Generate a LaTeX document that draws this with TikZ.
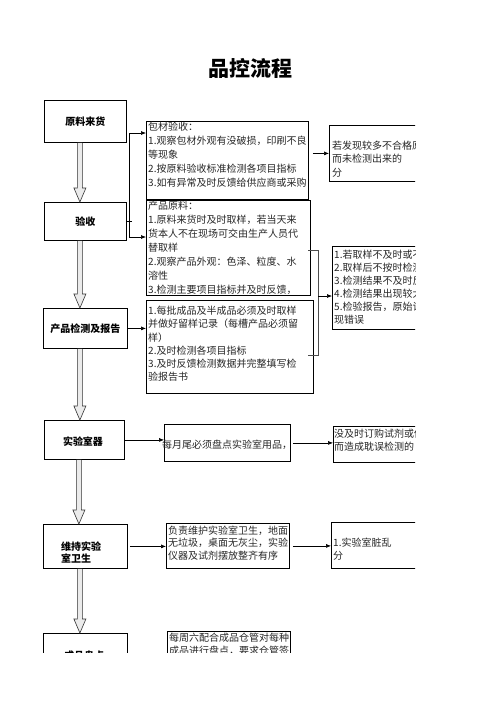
\documentclass[tikz,border=0pt]{standalone}
\usepackage{fontspec}
\setmainfont{Noto Sans CJK SC}
\usetikzlibrary{arrows.meta,calc}
\tikzset{
  step box/.style={draw,line width=0.8pt,inner sep=0pt,anchor=north west},
  step label/.style={font=\bfseries\fontsize{10}{12}\selectfont,inner sep=0pt},
  title text/.style={font=\bfseries\fontsize{21}{24}\selectfont,inner sep=0pt},
  note text/.style={font=\fontsize{10}{#1}\selectfont,align=left,inner sep=1pt,
    anchor=north west,text=black!85},
  note text/.default=13.5,
  flow arrow/.style={-{Latex[length=5pt,width=4pt]},line width=0.6pt},
  flow line/.style={line width=0.6pt},
  bracket line/.style={draw=black!70,line width=0.8pt},
  hollow arrow/.style={draw=black!80,fill=black!8,line width=0.6pt},
}
% wide hollow arrow from the bottom of one step box to the top of the next
\newcommand\bigdown[2]{%
  \draw[hollow arrow] ($(#1.south)+(-8,0)$) -- ($(#1.south |- #2.north)+(-8,-14)$)
    -- ($(#1.south |- #2.north)+(-11.5,-14)$) -- ($(#1.south |- #2.north)+(-5.5,0)$)
    -- ($(#1.south |- #2.north)+(0.5,-14)$) -- ($(#1.south |- #2.north)+(-3,-14)$)
    -- ($(#1.south)+(-3,0)$);}

\begin{document}
\begin{tikzpicture}[x=1pt,y=-1pt]
  \useasboundingbox (0,0) rectangle (496,702);
  \node[title text] (title) at (250,68) {品控流程};

  \begin{scope}
  \clip (0,0) rectangle (415,652.5);
  % left column
  \node[step box,minimum width=82,minimum height=42] (b1) at (44,100) {};
  \node[step box,minimum width=82,minimum height=38] (b2) at (44,202) {};
  \node[step box,minimum width=84,minimum height=40] (b3) at (43,308) {};
  \node[step box,minimum width=80,minimum height=39] (b4) at (44,420) {};
  \node[step box,minimum width=84,minimum height=44] (b5) at (43,524) {};
  \node[step box,minimum width=84,minimum height=50] (b6) at (43,633) {};
  \node[step label] (b1t) at (b1.center) {原料来货};
  \node[step label] (b2t) at (b2.center) {验收};
  \node[step label] (b3t) at (b3.center) {产品检测及报告};
  \node[step label] (b4t) at (83,442) {实验室器};
  \node[step label,align=left,anchor=west] (b5t) at (61,552) {维持实验\\室卫生};
  \node[step label,anchor=west] (b6t) at (64,656) {成品盘点};
  \foreach \a/\b in {b1/b2,b2/b3,b3/b4,b4/b5,b5/b6} {\bigdown{\a}{\b}}

  % middle column
  \node[step box,minimum width=162,minimum height=78] (m1) at (146,121) {};
  \node[step box,minimum width=164,minimum height=95] (m2) at (146,200) {};
  \node[step box,minimum width=167,minimum height=93] (m3) at (146,300) {};
  \node[step box,minimum width=126,minimum height=37] (m4) at (164,424) {};
  \node[step box,minimum width=123,minimum height=45] (m5) at (166,523) {};
  \node[step box,minimum width=123,minimum height=60] (m6) at (167,631) {};
  \begin{scope}
    \clip (m1.north west) rectangle (m1.south east);
    \node[note text=14] (m1t) at ($(m1.north west)+(1,0)$)
      {包材验收：\\1.观察包材外观有没破损，印刷不良\\等现象\\2.按原料验收标准检测各项目指标\\3.如有异常及时反馈给供应商或采购};
  \end{scope}
  \node[note text=14] (m2t) at ($(m2.north west)+(1,0)$)
    {产品原料：\\1.原料来货时及时取样，若当天来\\货本人不在现场可交由生产人员代\\替取样\\2.观察产品外观：色泽、粒度、水\\溶性\\3.检测主要项目指标并及时反馈，};
  \node[note text=13.2] (m3t) at ($(m3.north west)+(1,5)$)
    {1.每批成品及半成品必须及时取样\\并做好留样记录（每槽产品必须留\\样）\\2.及时检测各项目指标\\3.及时反馈检测数据并完整填写检\\验报告书};
  \node[note text,anchor=west] (m4t) at (161,445) {每月尾必须盘点实验室用品，};
  \node[note text=12.5] (m5t) at ($(m5.north west)+(1,1.5)$)
    {负责维护实验室卫生，地面\\无垃圾，桌面无灰尘，实验\\仪器及试剂摆放整齐有序};
  \node[note text=13] (m6t) at ($(m6.north west)+(1,1)$)
    {每周六配合成品仓管对每种\\成品进行盘点，要求仓管签};

  % right column
  \node[step box,minimum width=100,minimum height=56] (r1) at (329,125) {};
  \node[step box,minimum width=100,minimum height=83] (r2) at (332,246) {};
  \node[step box,minimum width=100,minimum height=36] (r4) at (333,426) {};
  \node[step box,minimum width=100,minimum height=46] (r5) at (331,522) {};
  \node[note text] (r1t) at ($(r1.north west)+(2,14.5)$)
    {若发现较多不合格原料\\而未检测出来的\\分};
  \node[note text=13] (r2t) at ($(r2.north west)+(1,3)$)
    {1.若取样不及时或不按要求\\2.取样后不按时检测\\3.检测结果不及时反馈\\4.检测结果出现较大偏差\\5.检验报告，原始记录出\\现错误};
  \node[note text=13] (r4t) at ($(r4.north west)+(0,1.5)$)
    {没及时订购试剂或仪器\\而造成耽误检测的};
  \node[note text=13] (r5t) at ($(r5.north west)+(1,14.5)$)
    {1.实验室脏乱\\分};

  % connectors
  \coordinate (fk1) at (129,133);
  \coordinate (fk2) at (129,237);
  \draw[flow line] (fk1) -- (fk2);
  \draw[flow line] (b2.east) -- ++(5,0);
  \draw[flow arrow] (fk1) -- (fk1 -| m1.west);
  \draw[flow arrow] (fk2) -- (fk2 -| m2.west);
  \draw[flow arrow] ($(r1.west -| m1.east)+(4,0)$) -- (r1.west);
  \coordinate (bk1) at (308,250);
  \coordinate (bk2) at (308,355);
  \coordinate (bk3) at (318,296);
  \draw[bracket line] (bk1) -- ++(10,0) |- (bk2);
  \draw[flow arrow] (bk3) -- (bk3 -| r2.west);
  \draw[flow arrow] (b3.east) -- (b3.east -| m3.west);
  \draw[flow arrow] (b4.east) -- (b4.east -| m4.west);
  \draw[flow arrow] (m4.east) ++(2,0) -- (m4.east -| r4.west);
  \draw[flow arrow] (b5.east) ++(2,0) -- (b5.east -| m5.west);
  \draw[flow arrow] (m5.east) ++(3,0) -- (m5.east -| r5.west);
  \end{scope}
\end{tikzpicture}
\end{document}
